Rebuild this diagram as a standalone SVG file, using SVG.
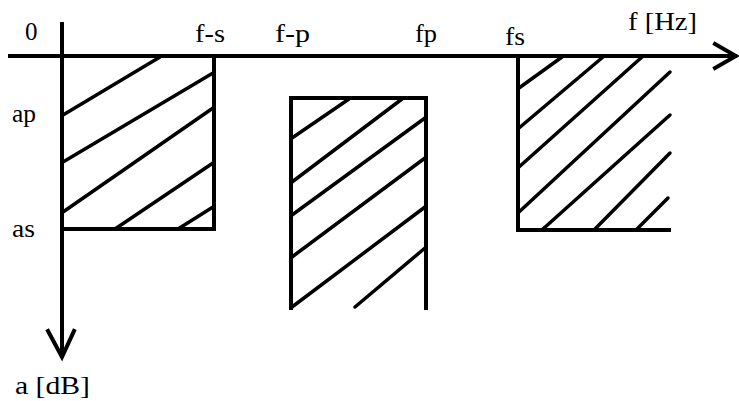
<svg xmlns="http://www.w3.org/2000/svg" width="739" height="401" viewBox="0 0 739 401">
<style>
.ax{stroke:#000;stroke-width:4;fill:none;stroke-linecap:square}
.box{stroke:#000;stroke-width:4;fill:none;stroke-linecap:square}
.h{stroke:#000;stroke-width:3.5;fill:none;stroke-linecap:round}
.t{font-family:'Liberation Serif','DejaVu Serif',serif;font-size:25px;fill:#000}
</style>
<rect width="739" height="401" fill="#fff"/>
<g id="axes">
<line class="ax" x1="10" y1="56" x2="735" y2="56"/>
<polyline class="ax" points="715,44 736,56 715,68" stroke-linejoin="miter"/>
<line class="ax" x1="62" y1="24" x2="62" y2="356"/>
<polyline class="ax" points="48,331 62,357 74,331" stroke-width="5"/>
</g>
<g id="box1">
<polyline class="box" points="214,56 214,229 62,229"/>
<line class="h" x1="63" y1="115" x2="160" y2="57"/>
<line class="h" x1="63" y1="162" x2="213" y2="73"/>
<line class="h" x1="63" y1="212" x2="213" y2="108"/>
<line class="h" x1="115" y1="229" x2="213" y2="163"/>
<line class="h" x1="178" y1="229" x2="213" y2="207"/>
</g>
<g id="box2">
<polyline class="box" points="291,308 291,98 426,98 426,308"/>
<line class="h" x1="292" y1="138" x2="349" y2="99"/>
<line class="h" x1="292" y1="182" x2="402" y2="99"/>
<line class="h" x1="292" y1="215" x2="425" y2="118"/>
<line class="h" x1="292" y1="257" x2="425" y2="158"/>
<line class="h" x1="292" y1="307" x2="425" y2="207"/>
<line class="h" x1="355" y1="307" x2="425" y2="248"/>
</g>
<g id="box3">
<polyline class="box" points="518,56 518,230 669,230"/>
<line class="h" x1="519" y1="88" x2="562" y2="57"/>
<line class="h" x1="519" y1="128" x2="603" y2="57"/>
<line class="h" x1="519" y1="167" x2="642" y2="57"/>
<line class="h" x1="519" y1="212" x2="670" y2="72"/>
<line class="h" x1="543" y1="229" x2="670" y2="115"/>
<line class="h" x1="595" y1="229" x2="670" y2="153"/>
<line class="h" x1="637" y1="229" x2="668" y2="198"/>
</g>
<g id="labels">
<text class="t" x="25" y="40">0</text>
<text class="t" x="195" y="42" textLength="30" lengthAdjust="spacingAndGlyphs">f-s</text>
<text class="t" x="275" y="42" textLength="35" lengthAdjust="spacingAndGlyphs">f-p</text>
<text class="t" x="415" y="42" textLength="22" lengthAdjust="spacingAndGlyphs">fp</text>
<text class="t" x="505" y="45" textLength="20" lengthAdjust="spacingAndGlyphs">fs</text>
<text class="t" x="628" y="30" textLength="69" lengthAdjust="spacingAndGlyphs">f [Hz]</text>
<text class="t" x="12" y="122" textLength="24" lengthAdjust="spacingAndGlyphs">ap</text>
<text class="t" x="12" y="237" textLength="23" lengthAdjust="spacingAndGlyphs">as</text>
<text class="t" x="15" y="394" textLength="75" lengthAdjust="spacingAndGlyphs">a [dB]</text>
</g>
</svg>
